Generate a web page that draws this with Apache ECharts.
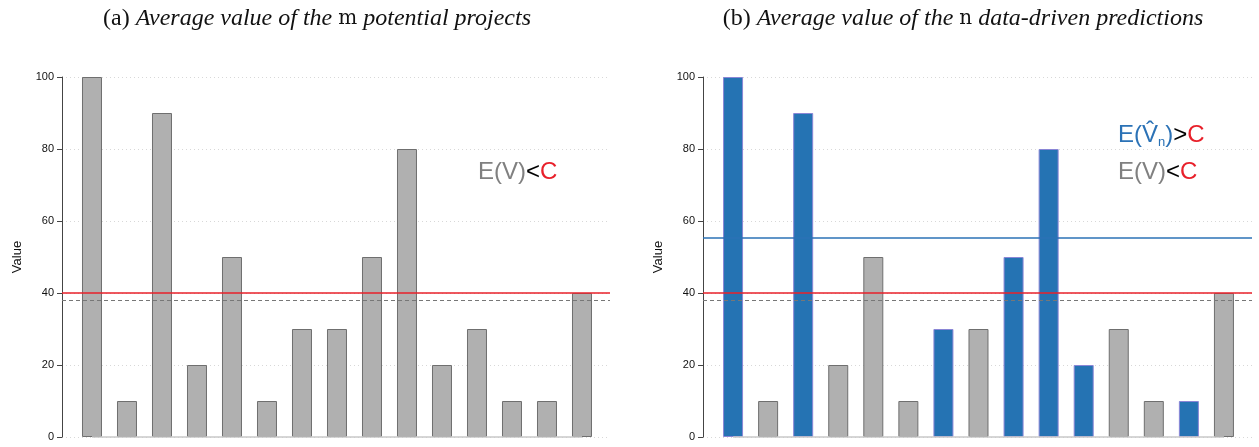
<!DOCTYPE html>
<html>
<head>
<meta charset="utf-8">
<script src="https://cdn.jsdelivr.net/npm/echarts@6/dist/echarts.min.js"></script>
<style>
  html, body { margin: 0; padding: 0; background: #fff; }
  #main { width: 1259px; height: 447px; }
</style>
</head>
<body>
<div id="main"></div>
<script>
// bar values of the 15 projects (same in both panels)
var values = [100, 10, 90, 20, 50, 10, 30, 30, 50, 80, 20, 30, 10, 10, 40];
// 1 = chosen by the data-driven prediction (blue in panel b)
var selected = [1, 0, 1, 0, 0, 0, 1, 0, 1, 1, 1, 0, 0, 1, 0];
var yTicks = [0, 20, 40, 60, 80, 100];
var costC = 40;       // red line
var meanAll = 38;     // dashed grey line
var meanSel = 55.3;   // blue line (panel b)

var grey = '#b0b0b0', greyBorder = '#6f6f6f';
var blue = '#2573b3', blueBorder = '#8a86d6';
var red = '#e8202a';

var chart = echarts.init(document.getElementById('main'), null, { renderer: 'canvas' });

function yAxisFor(idx) {
  return {
    gridIndex: idx, type: 'value', min: yTicks[0], max: yTicks[yTicks.length - 1], interval: 20,
    name: 'Value', nameLocation: 'middle', nameGap: 38, nameRotate: 90,
    nameTextStyle: { fontFamily: 'Liberation Sans', fontSize: 13, color: '#111' },
    axisLine: { show: true, onZero: false, lineStyle: { color: '#444', width: 1 } },
    axisTick: { show: true, length: 5, lineStyle: { color: '#444' } },
    axisLabel: { fontFamily: 'Liberation Sans', fontSize: 11, color: '#111', margin: 8 },
    splitLine: { show: true, lineStyle: { color: '#d8d8d8', type: [1, 3], width: 1 } }
  };
}
function xAxisFor(idx) {
  return { gridIndex: idx, type: 'value', min: -0.857, max: 14.8, show: false };
}

function barData(useSel) {
  return values.map(function (v, i) {
    var s = useSel && selected[i];
    return {
      value: [i, v],
      itemStyle: { color: s ? blue : grey, borderColor: s ? blueBorder : greyBorder, borderWidth: 1 }
    };
  });
}

function lines(withBlue) {
  var d = [
    { yAxis: meanAll, lineStyle: { color: '#777', type: [4, 3], width: 1 } },
    { yAxis: costC, lineStyle: { color: red, type: 'solid', width: 1.5 } },
    [{ coord: [0, 0], lineStyle: { color: '#c8c8c8', type: 'solid', width: 1.5 } }, { coord: [values.length - 1, 0] }]
  ];
  if (withBlue) d.push({ yAxis: meanSel, lineStyle: { color: '#2b72b6', type: 'solid', width: 1.5 } });
  return { silent: true, symbol: ['none', 'none'], label: { show: false }, animation: false, data: d };
}

function titleRich(letter, sym, rest) {
  return {
    text: '{a|(' + letter + ') }{i|Average value of the }{m|' + sym + '}{i| ' + rest + '}',
    textStyle: {
      fontWeight: 'normal',
      rich: {
        a: { fontFamily: 'Liberation Serif', fontWeight: 'normal', fontSize: 24, color: '#111' },
        i: { fontFamily: 'Liberation Serif', fontWeight: 'normal', fontStyle: 'italic', fontSize: 24, color: '#111' },
        m: { fontFamily: 'DejaVu Serif', fontWeight: 'normal', fontSize: 20, color: '#111' }
      }
    }
  };
}

var tA = titleRich('a', 'm', 'potential projects');
var tB = titleRich('b', 'n', 'data-driven predictions');

var option = {
  animation: false,
  backgroundColor: '#fff',
  title: [
    { left: 312, top: 2, textAlign: 'center', text: tA.text, textStyle: tA.textStyle },
    { left: 958, top: 2, textAlign: 'center', text: tB.text, textStyle: tB.textStyle }
  ],
  grid: [
    { left: 62, top: 77, width: 548, height: 360 },
    { left: 703, top: 77, width: 549, height: 360 }
  ],
  xAxis: [xAxisFor(0), xAxisFor(1)],
  yAxis: [yAxisFor(0), yAxisFor(1)],
  series: [
    { type: 'bar', xAxisIndex: 0, yAxisIndex: 0, barWidth: 20, data: barData(false), markLine: lines(false) },
    { type: 'bar', xAxisIndex: 1, yAxisIndex: 1, barWidth: 20, data: barData(true), markLine: lines(true) }
  ],
  graphic: [
    {
      type: 'text', left: 478, top: 160,
      style: {
        text: '{g|E(V)}{k|<}{r|C}',
        rich: {
          g: { fontFamily: 'Liberation Sans', fontSize: 24, fill: '#808080' },
          k: { fontFamily: 'Liberation Sans', fontSize: 24, fill: '#000' },
          r: { fontFamily: 'Liberation Sans', fontSize: 24, fill: red }
        }
      }
    },
    {
      type: 'text', left: 1118, top: 123,
      style: {
        text: '{b|E(V\u0302}{s|n}{b|)}{k|>}{r|C}',
        rich: {
          b: { fontFamily: 'Liberation Sans', fontSize: 24, fill: '#2b72b6' },
          s: { fontFamily: 'Liberation Sans', fontSize: 13, fill: '#2b72b6', verticalAlign: 'bottom', padding: [14, 0, 0, 0] },
          k: { fontFamily: 'Liberation Sans', fontSize: 24, fill: '#000' },
          r: { fontFamily: 'Liberation Sans', fontSize: 24, fill: red }
        }
      }
    },
    {
      type: 'text', left: 1118, top: 160,
      style: {
        text: '{g|E(V)}{k|<}{r|C}',
        rich: {
          g: { fontFamily: 'Liberation Sans', fontSize: 24, fill: '#808080' },
          k: { fontFamily: 'Liberation Sans', fontSize: 24, fill: '#000' },
          r: { fontFamily: 'Liberation Sans', fontSize: 24, fill: red }
        }
      }
    }
  ]
};

chart.setOption(option);
</script>
</body>
</html>
